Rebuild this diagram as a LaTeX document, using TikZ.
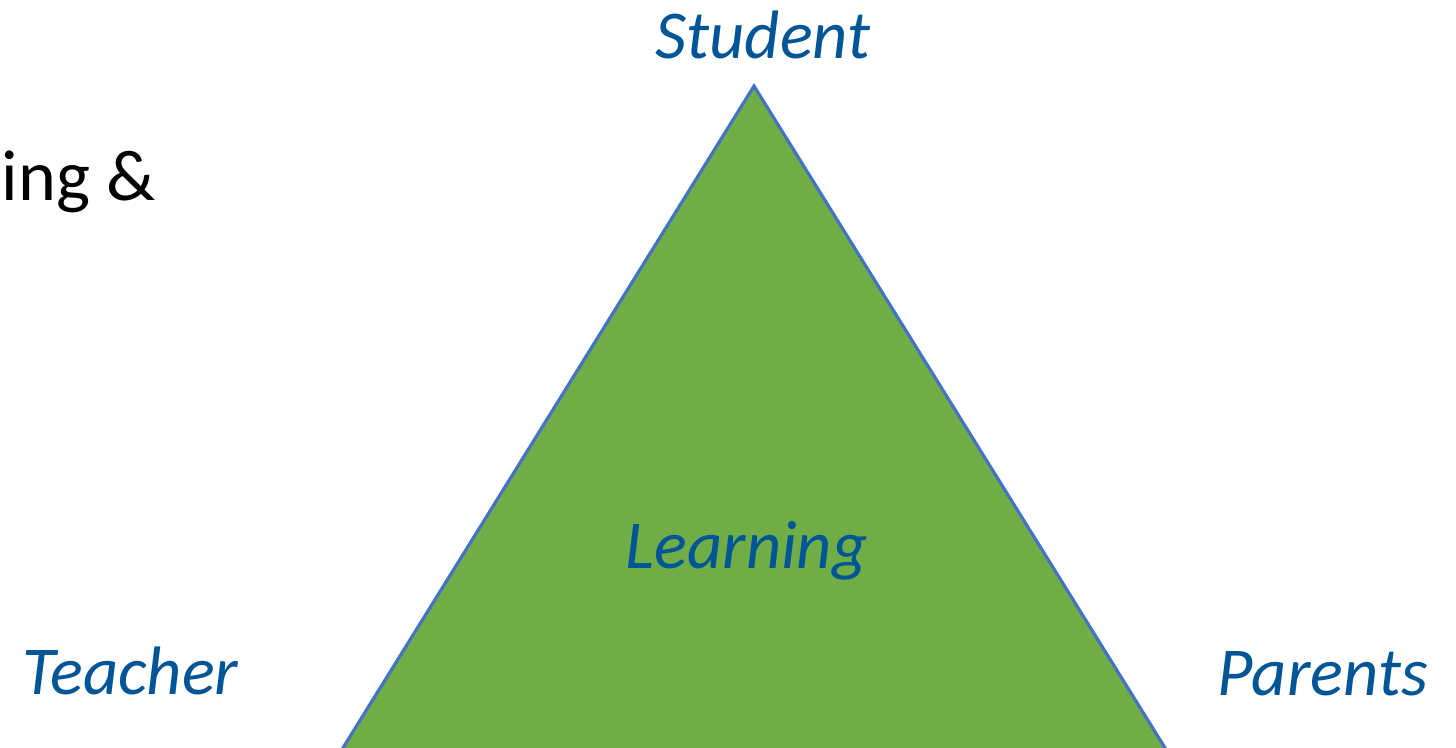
\documentclass[tikz,border=0pt]{standalone}
\usepackage{fontspec}
\setmainfont{Carlito}
\definecolor{labelblue}{RGB}{0,85,150}
\definecolor{trigreen}{RGB}{112,173,71}
\definecolor{triedge}{RGB}{68,114,196}
\tikzset{
    role/.style={anchor=base west, inner sep=0pt, text=labelblue, font=\fontsize{19.5}{24}\selectfont\itshape},
    plain/.style={anchor=base west, inner sep=0pt, font=\fontsize{20.5}{25}\selectfont}
}
\begin{document}
\begin{tikzpicture}[x=0.01cm, y=-0.01cm]
\useasboundingbox (0,0) rectangle (1456,748);
\clip (0,0) rectangle (1456,748);
\coordinate (apex) at (754,86);
\coordinate (left) at (300,817);
\coordinate (right) at (1208,817);
\draw[fill=trigreen, draw=triedge, line width=0.9pt] (apex) -- (left) -- (right) -- cycle;
\node[plain] (intro) at (1,200) {ing \&};
\node[role] (student) at (655,58) {Student};
\node[role] (learning) at (625,568) {Learning};
\node[role] (teacher) at (22,694) {Teacher};
\node[role] (parents) at (1217,695) {Parents};
\end{tikzpicture}
\end{document}
